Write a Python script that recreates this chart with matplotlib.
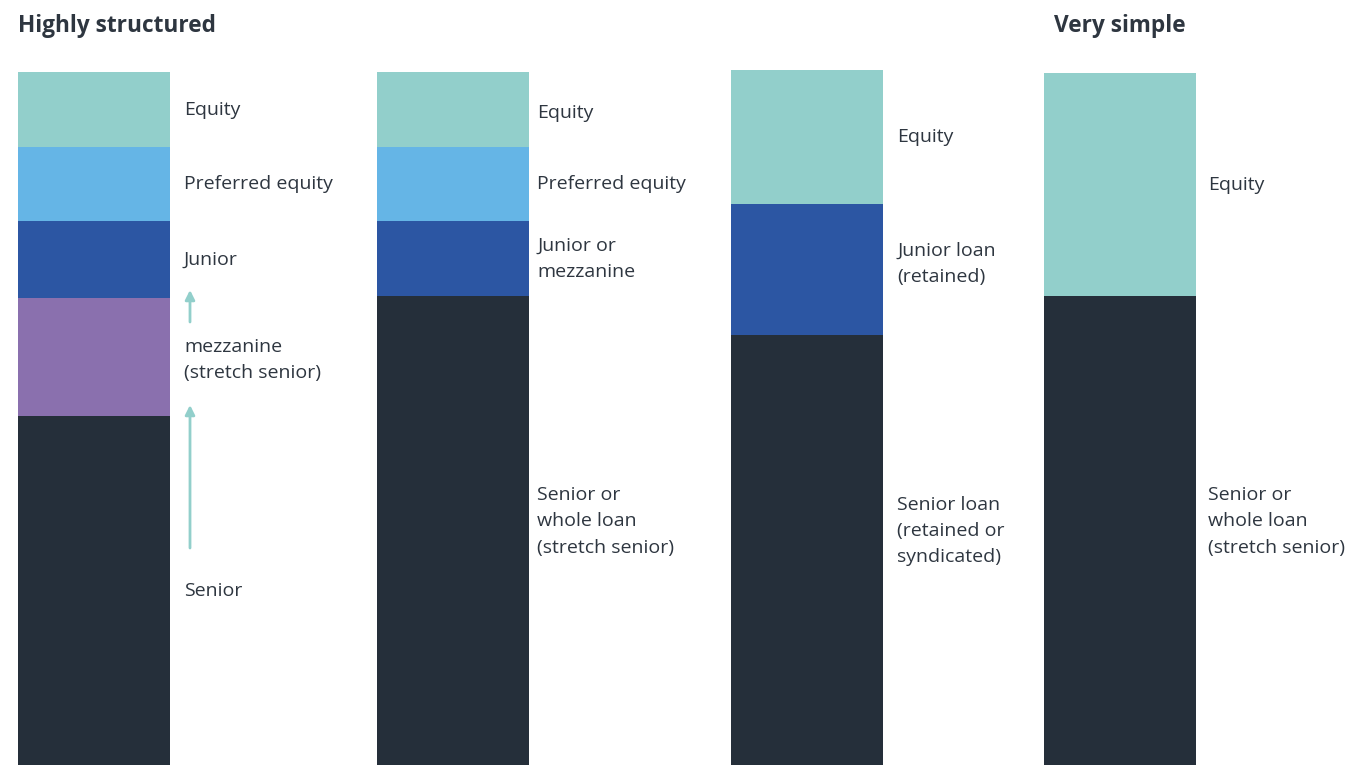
import matplotlib.pyplot as plt

plt.rcParams['font.family'] = ['Open Sans', 'DejaVu Sans']

# capital stack per structure, bottom to top (segment heights)
stacks = ['Highly structured', 'Two-tier', 'Loan split', 'Very simple']
senior = [349, 469, 430, 469]
mezzanine = [118, 0, 0, 0]
junior = [77, 75, 131, 0]
preferred = [74, 74, 0, 0]
equity = [75, 75, 134, 223]

labels_1 = ['Senior', 'mezzanine\n(stretch senior)', 'Junior', 'Preferred equity', 'Equity']
labels_2 = ['Senior or\nwhole loan\n(stretch senior)', '', 'Junior or\nmezzanine', 'Preferred equity', 'Equity']
labels_3 = ['Senior loan\n(retained or\nsyndicated)', '', 'Junior loan\n(retained)', '', 'Equity']
labels_4 = ['Senior or\nwhole loan\n(stretch senior)', '', '', '', 'Equity']
label_nudge = [[0, -3, 0, 0, 0], [9, 0, 0, 0, -3], [19, 0, 6, 0, 0], [9, 0, 0, 0, 0]]

colors = ['#252f3a', '#8a70ae', '#2c56a3', '#65b5e6', '#92cfcb']
text_color = '#2e3640'

bar_x = [94, 453, 807, 1120]
bar_w = 152
label_gap = [14, 8, 14, 12]

fig = plt.figure(figsize=(13.51, 7.65), dpi=100)
ax = fig.add_axes([0, 0, 1, 1])
ax.set_xlim(0, 1351)
ax.set_ylim(0, 765)
ax.axis('off')

layers = [senior, mezzanine, junior, preferred, equity]
all_labels = [labels_1, labels_2, labels_3, labels_4]
for i in range(len(stacks)):
    bottom = 0
    for j, layer in enumerate(layers):
        h = layer[i]
        if h == 0:
            continue
        ax.bar(bar_x[i], h, bottom=bottom, width=bar_w, color=colors[j], linewidth=0)
        lab = all_labels[i][j]
        if lab:
            ax.text(bar_x[i] + bar_w / 2 + label_gap[i], bottom + h / 2 + label_nudge[i][j], lab,
                    va='center', ha='left', fontsize=14, color=text_color, linespacing=1.58)
        bottom += h

# arrows showing senior stretching upward into mezzanine
arrow_style = dict(arrowstyle='-|>', color='#92cfcb', lw=2, mutation_scale=14, shrinkA=0, shrinkB=0)
ax.annotate('', xy=(190, senior[0] + mezzanine[0] + 8), xytext=(190, senior[0] + mezzanine[0] - 24),
            arrowprops=arrow_style)
ax.annotate('', xy=(190, senior[0] + 11), xytext=(190, 217), arrowprops=arrow_style)

ax.text(18, 739, 'Highly structured', ha='left', va='center', fontsize=16.3, fontweight='bold', color=text_color)
ax.text(1054, 739, 'Very simple', ha='left', va='center', fontsize=16.3, fontweight='bold', color=text_color)

fig.savefig('out.png', dpi=100)
